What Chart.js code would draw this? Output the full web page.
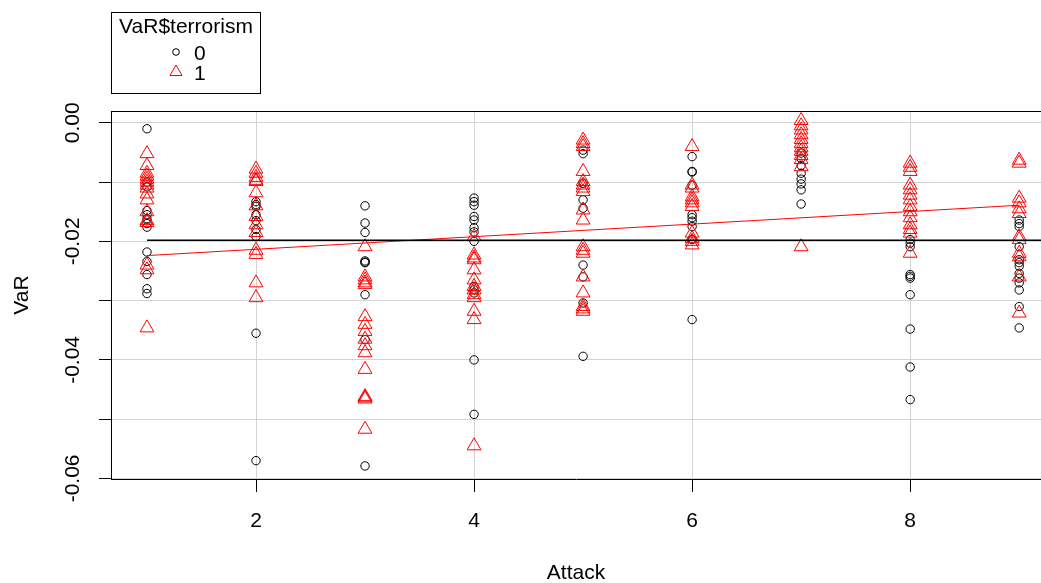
<!DOCTYPE html>
<html>
<head>
<meta charset="utf-8">
<script src="https://cdn.jsdelivr.net/npm/chart.js@4.4.1/dist/chart.umd.min.js"></script>
<style>
  html, body { margin: 0; padding: 0; background: #fff; overflow: hidden; }
  #wrap { width: 1041px; height: 583px; position: relative; }
  #myChart { display: block; }
</style>
</head>
<body>
<div id="wrap"><canvas id="myChart"></canvas></div>
<script>
// Attack の値（x軸）
const attacks = [1, 2, 3, 4, 5, 6, 7, 8, 9];

// terrorism = 0 の VaR（attack ごと）
const var0 = [
  [-0.0010, -0.0100, -0.0108, -0.0148, -0.0155, -0.0162, -0.0170, -0.0176, -0.0218, -0.0234, -0.0256, -0.0280, -0.0288],
  [-0.0133, -0.0138, -0.0141, -0.0155, -0.0165, -0.0180, -0.0192, -0.0355, -0.0570],
  [-0.0140, -0.0169, -0.0185, -0.0233, -0.0235, -0.0236, -0.0290, -0.0366, -0.0579],
  [-0.0127, -0.0133, -0.0139, -0.0158, -0.0164, -0.0177, -0.0184, -0.0200, -0.0276, -0.0282, -0.0287, -0.0400, -0.0492],
  [-0.0046, -0.0052, -0.0102, -0.0130, -0.0144, -0.0240, -0.0260, -0.0304, -0.0394],
  [-0.0057, -0.0082, -0.0083, -0.0105, -0.0155, -0.0160, -0.0166, -0.0175, -0.0197, -0.0332],
  [-0.0051, -0.0060, -0.0072, -0.0085, -0.0095, -0.0103, -0.0113, -0.0137],
  [-0.0197, -0.0203, -0.0209, -0.0256, -0.0259, -0.0262, -0.0290, -0.0348, -0.0412, -0.0467],
  [-0.0164, -0.0170, -0.0175, -0.0209, -0.0231, -0.0236, -0.0242, -0.0254, -0.0262, -0.0270, -0.0282, -0.0310, -0.0346]
];

// terrorism = 1 の VaR（attack ごと）
const var1 = [
  [-0.0052, -0.0072, -0.0085, -0.0090, -0.0095, -0.0100, -0.0105, -0.0110, -0.0120, -0.0130, -0.0150, -0.0165, -0.0168, -0.0240, -0.0248, -0.0346],
  [-0.0078, -0.0085, -0.0092, -0.0097, -0.0099, -0.0118, -0.0140, -0.0158, -0.0172, -0.0185, -0.0215, -0.0222, -0.0270, -0.0295],
  [-0.0209, -0.0260, -0.0265, -0.0270, -0.0273, -0.0327, -0.0340, -0.0352, -0.0365, -0.0376, -0.0388, -0.0416, -0.0462, -0.0464, -0.0466, -0.0517],
  [-0.0192, -0.0223, -0.0228, -0.0231, -0.0248, -0.0265, -0.0276, -0.0282, -0.0290, -0.0295, -0.0318, -0.0332, -0.0545],
  [-0.0029, -0.0035, -0.0040, -0.0082, -0.0099, -0.0105, -0.0110, -0.0116, -0.0147, -0.0164, -0.0209, -0.0215, -0.0220, -0.0260, -0.0287, -0.0310, -0.0314, -0.0318],
  [-0.0040, -0.0105, -0.0110, -0.0125, -0.0130, -0.0135, -0.0141, -0.0186, -0.0195, -0.0200, -0.0206],
  [0.0004, -0.0005, -0.0012, -0.0020, -0.0028, -0.0035, -0.0042, -0.0048, -0.0055, -0.0062, -0.0074, -0.0209],
  [-0.0068, -0.0075, -0.0082, -0.0105, -0.0113, -0.0122, -0.0130, -0.0141, -0.0150, -0.0160, -0.0172, -0.0180, -0.0186, -0.0220],
  [-0.0063, -0.0068, -0.0127, -0.0135, -0.0145, -0.0153, -0.0192, -0.0197, -0.0220, -0.0226, -0.0260, -0.0321]
];

// 平均線と回帰直線
const meanLineX = [1, 9.3];
const meanLineY = [-0.0198, -0.0198];
const fitLineX = [1, 9];
const fitLineY = [-0.0224, -0.0139];

// 目盛りラベル
const yTickLabels = ['0.00', '-0.02', '-0.04', '-0.06'];
const legendTitle = 'VaR$terrorism';
const legendLabels = ['0', '1'];

const FONT = '"Liberation Sans", Arial, sans-serif';

// x,y の組を作る
function toPoints(xs, ys) {
  return xs.map((x, i) => ({ x: x, y: ys[i] }));
}
function groupPoints(groups) {
  let pts = [];
  groups.forEach((vals, i) => {
    vals.forEach(v => pts.push({ x: attacks[i], y: v }));
  });
  return pts;
}

// 枠・y軸ラベル・凡例を描く
const extras = {
  id: 'extras',
  afterDraw(chart) {
    const ctx = chart.ctx;
    const a = chart.chartArea;
    const ys = chart.scales.y;
    ctx.save();
    // 上の枠線
    ctx.strokeStyle = '#000';
    ctx.lineWidth = 1;
    ctx.beginPath();
    ctx.moveTo(a.left, a.top + 0.5);
    ctx.lineTo(a.right, a.top + 0.5);
    ctx.stroke();

    // y軸ラベル（縦書き）
    ctx.fillStyle = '#000';
    ctx.font = '21px ' + FONT;
    ctx.textAlign = 'center';
    ctx.textBaseline = 'middle';
    yTickLabels.forEach(lab => {
      const py = ys.getPixelForValue(parseFloat(lab));
      ctx.save();
      ctx.translate(73, py);
      ctx.rotate(-Math.PI / 2);
      ctx.fillText(lab, 0, 0);
      ctx.restore();
    });

    // 凡例
    ctx.strokeRect(111.5, 12.5, 149, 81);
    ctx.fillText(legendTitle, 186, 27);
    ctx.textAlign = 'left';
    ctx.fillText(legendLabels[0], 194, 54);
    ctx.fillText(legendLabels[1], 194, 74);
    ctx.beginPath();
    ctx.arc(176, 52, 3.3, 0, Math.PI * 2);
    ctx.strokeStyle = '#000';
    ctx.stroke();
    ctx.strokeStyle = '#ff0000';
    const r = 7;
    ctx.beginPath();
    ctx.moveTo(176, 72 - r);
    ctx.lineTo(176 + r * 0.866, 72 + r / 2);
    ctx.lineTo(176 - r * 0.866, 72 + r / 2);
    ctx.closePath();
    ctx.stroke();
    ctx.restore();
  }
};

const elem = document.getElementById('myChart');
const chart = new Chart(elem, {
  type: 'scatter',
  data: {
    datasets: [
      {
        label: 'mean',
        data: toPoints(meanLineX, meanLineY),
        showLine: true,
        borderColor: '#000',
        borderWidth: 1.5,
        pointRadius: 0,
        order: 0
      },
      {
        label: 'fit',
        data: toPoints(fitLineX, fitLineY),
        showLine: true,
        borderColor: '#ff0000',
        borderWidth: 1,
        pointRadius: 0,
        order: 0
      },
      {
        label: '1',
        data: groupPoints(var1),
        pointStyle: 'triangle',
        pointRadius: 8,
        borderColor: '#ff0000',
        backgroundColor: 'rgba(0,0,0,0)',
        borderWidth: 1,
        order: 1
      },
      {
        label: '0',
        data: groupPoints(var0),
        pointStyle: 'circle',
        pointRadius: 4.2,
        borderColor: '#000',
        backgroundColor: 'rgba(0,0,0,0)',
        borderWidth: 1,
        order: 2
      }
    ]
  },
  options: {
    responsive: true,
    maintainAspectRatio: false,
    animation: false,
    layout: { autoPadding: false, padding: { top: 111, left: 0, right: 0, bottom: 0 } },
    plugins: {
      legend: { display: false },
      tooltip: { enabled: false }
    },
    scales: {
      x: {
        type: 'linear',
        min: 0.67,
        max: 9.2,
        afterFit(s) {
          s.height = 104;
          s.paddingLeft = 0;
          s.paddingRight = 0;
        },
        ticks: {
          stepSize: 2,
          includeBounds: false,
          maxRotation: 0,
          color: '#000',
          padding: 17,
          font: { family: FONT, size: 21 }
        },
        grid: { color: '#d3d3d3', tickColor: '#000', tickLength: 13, lineWidth: 1 },
        border: { color: '#000', width: 1 },
        title: {
          display: true,
          text: 'Attack',
          color: '#000',
          font: { family: FONT, size: 21 },
          padding: { top: 0, bottom: -3 }
        }
      },
      y: {
        min: -0.0601,
        max: 0.002,
        afterFit(s) {
          s.width = 111;
          s.paddingTop = 0;
          s.paddingBottom = 0;
        },
        ticks: {
          stepSize: 0.01,
          includeBounds: false,
          callback: () => ''
        },
        grid: { color: '#d3d3d3', tickColor: '#000', tickLength: 12, lineWidth: 1 },
        border: { color: '#000', width: 1 },
        title: {
          display: true,
          text: 'VaR',
          color: '#000',
          font: { family: FONT, size: 21 },
          padding: { top: 10, bottom: 0 }
        }
      }
    }
  },
  plugins: [extras]
});
</script>
</body>
</html>
